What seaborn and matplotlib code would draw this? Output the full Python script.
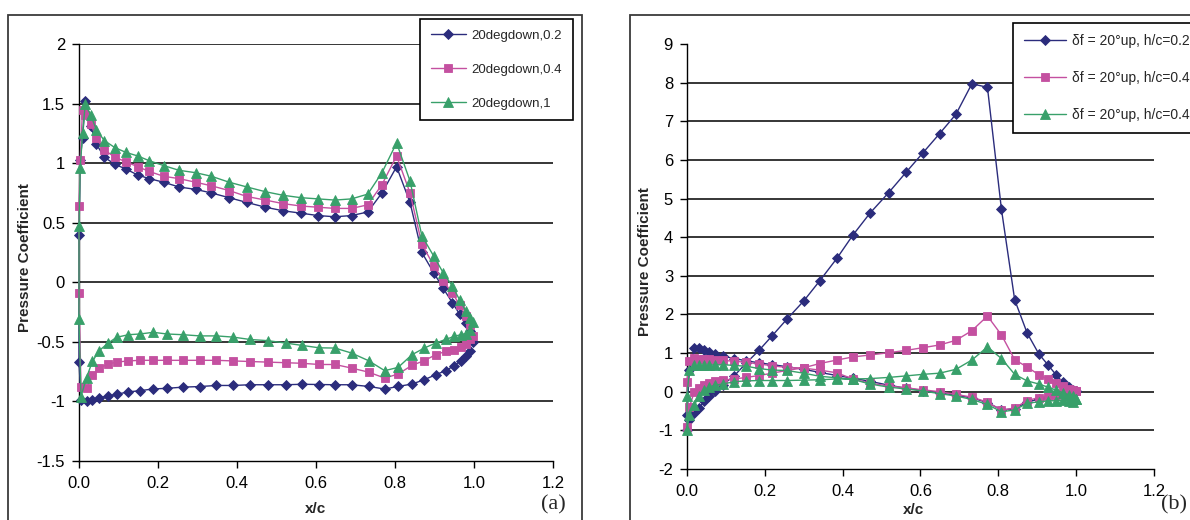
import matplotlib
matplotlib.use("Agg")
import matplotlib.pyplot as plt
from matplotlib.patches import Rectangle
from matplotlib.ticker import FuncFormatter
import seaborn as sns

sns.set_style("ticks")
plt.rcParams["font.family"] = ["Liberation Sans", "DejaVu Sans"]
plt.rcParams["axes.unicode_minus"] = False

# Data, panel (a): 20 deg flap down, surface pressure around the section
x_upper_a = [0.0, 0.003, 0.009, 0.016, 0.030, 0.044, 0.064, 0.091, 0.119, 0.149, 0.178, 0.214,
             0.253, 0.295, 0.335, 0.380, 0.425, 0.472, 0.517, 0.562, 0.605, 0.648, 0.690, 0.731,
             0.767, 0.804, 0.838, 0.868, 0.898, 0.922, 0.945, 0.964, 0.979, 0.990, 0.998]
x_lower_a = [0.0, 0.005, 0.019, 0.034, 0.051, 0.074, 0.095, 0.125, 0.154, 0.188, 0.223, 0.263,
             0.306, 0.348, 0.390, 0.433, 0.478, 0.523, 0.565, 0.608, 0.648, 0.690, 0.733, 0.774,
             0.808, 0.843, 0.874, 0.903, 0.928, 0.950, 0.966, 0.980, 0.990]

cp_upper_a_02 = [0.40, 1.03, 1.21, 1.52, 1.31, 1.16, 1.05, 0.99, 0.95, 0.90, 0.87, 0.84, 0.80, 0.78,
                 0.75, 0.71, 0.67, 0.63, 0.60, 0.58, 0.56, 0.55, 0.56, 0.59, 0.75, 0.97, 0.67, 0.25,
                 0.08, -0.05, -0.17, -0.27, -0.34, -0.41, -0.50]
cp_lower_a_02 = [-0.67, -0.99, -1.00, -0.99, -0.97, -0.955, -0.94, -0.92, -0.91, -0.895, -0.89,
                 -0.88, -0.875, -0.866, -0.866, -0.86, -0.86, -0.86, -0.856, -0.858, -0.86, -0.86,
                 -0.874, -0.896, -0.874, -0.854, -0.818, -0.776, -0.742, -0.70, -0.66, -0.62, -0.58]

cp_upper_a_04 = [0.64, 1.03, 1.45, 1.40, 1.33, 1.21, 1.11, 1.05, 1.01, 0.97, 0.93, 0.89, 0.87, 0.84,
                 0.81, 0.77, 0.72, 0.69, 0.66, 0.64, 0.63, 0.62, 0.62, 0.65, 0.82, 1.06, 0.75, 0.32,
                 0.14, 0.01, -0.09, -0.19, -0.28, -0.36, -0.45]
cp_lower_a_04 = [-0.09, -0.88, -0.89, -0.78, -0.72, -0.686, -0.67, -0.66, -0.655, -0.655, -0.655,
                 -0.655, -0.655, -0.655, -0.66, -0.665, -0.67, -0.675, -0.68, -0.69, -0.69, -0.72,
                 -0.754, -0.804, -0.77, -0.697, -0.658, -0.608, -0.58, -0.566, -0.546, -0.518, -0.48]

cp_upper_a_1 = [0.47, 0.96, 1.25, 1.50, 1.40, 1.28, 1.19, 1.13, 1.09, 1.06, 1.02, 0.98, 0.94, 0.92,
                0.89, 0.84, 0.80, 0.76, 0.73, 0.71, 0.70, 0.69, 0.70, 0.74, 0.92, 1.17, 0.85, 0.39,
                0.22, 0.08, -0.03, -0.15, -0.24, -0.30, -0.33]
cp_lower_a_1 = [-0.31, -0.96, -0.80, -0.664, -0.574, -0.51, -0.462, -0.44, -0.434, -0.42, -0.434,
                -0.44, -0.45, -0.45, -0.46, -0.48, -0.49, -0.51, -0.53, -0.55, -0.552, -0.594,
                -0.658, -0.742, -0.714, -0.608, -0.552, -0.51, -0.48, -0.454, -0.44, -0.43, -0.40]

labels_a = ["20degdown,0.2", "20degdown,0.4", "20degdown,1"]

# Data, panel (b): 20 deg flap up
x_b = [0.0, 0.006, 0.019, 0.031, 0.044, 0.057, 0.073, 0.092, 0.122, 0.152, 0.185, 0.219, 0.256,
       0.300, 0.341, 0.385, 0.426, 0.470, 0.518, 0.563, 0.606, 0.649, 0.691, 0.732, 0.772, 0.808,
       0.842, 0.874, 0.904, 0.927, 0.949, 0.966, 0.981, 0.993, 1.0]

cp_top_b_02 = [-0.60, 0.55, 1.12, 1.12, 1.08, 1.03, 0.98, 0.92, 0.86, 0.80, 0.75, 0.70, 0.65, 0.58,
               0.50, 0.42, 0.35, 0.27, 0.17, 0.09, 0.03, -0.03, -0.09, -0.16, -0.28, -0.47, -0.44,
               -0.27, -0.19, -0.14, -0.10, -0.06, -0.03, 0.00, 0.02]
cp_bot_b_02 = [-1.00, -0.72, -0.55, -0.42, -0.25, -0.12, 0.02, 0.18, 0.42, 0.74, 1.07, 1.45, 1.87,
               2.35, 2.87, 3.45, 4.05, 4.62, 5.15, 5.68, 6.18, 6.68, 7.18, 7.97, 7.88, 4.72, 2.38,
               1.52, 0.98, 0.70, 0.43, 0.24, 0.12, 0.05, 0.02]

cp_top_b_04 = [0.25, 0.80, 0.87, 0.86, 0.85, 0.84, 0.83, 0.81, 0.79, 0.76, 0.72, 0.67, 0.63, 0.61,
               0.56, 0.49, 0.33, 0.22, 0.15, 0.10, 0.05, 0.00, -0.07, -0.14, -0.27, -0.48, -0.42,
               -0.23, -0.15, -0.11, -0.08, -0.05, -0.03, 0.00, 0.03]
cp_bot_b_04 = [-0.90, -0.40, 0.00, 0.10, 0.18, 0.22, 0.27, 0.30, 0.33, 0.37, 0.42, 0.48, 0.55, 0.62,
               0.73, 0.82, 0.90, 0.95, 1.01, 1.07, 1.14, 1.21, 1.33, 1.58, 1.96, 1.47, 0.83, 0.64,
               0.44, 0.32, 0.22, 0.15, 0.08, 0.04, 0.03]

cp_top_b_04b = [-0.10, 0.55, 0.68, 0.68, 0.68, 0.69, 0.69, 0.70, 0.68, 0.66, 0.60, 0.56, 0.55, 0.48,
                0.40, 0.36, 0.32, 0.20, 0.12, 0.07, 0.02, -0.05, -0.11, -0.20, -0.33, -0.52, -0.47,
                -0.30, -0.26, -0.24, -0.23, -0.22, -0.24, -0.26, -0.18]
cp_bot_b_04b = [-1.00, -0.60, -0.35, -0.10, 0.05, 0.12, 0.17, 0.20, 0.26, 0.28, 0.29, 0.29, 0.29,
                0.30, 0.31, 0.33, 0.33, 0.34, 0.37, 0.41, 0.45, 0.48, 0.58, 0.82, 1.16, 0.86, 0.45,
                0.28, 0.20, 0.12, 0.04, -0.03, -0.08, -0.12, -0.18]

labels_b = ["\u03b4f = 20\u00b0up, h/c=0.2", "\u03b4f = 20\u00b0up, h/c=0.4",
            "\u03b4f = 20\u00b0up, h/c=0.4"]

colors = ["#2b2c7c", "#c450a0", "#38a06a"]
markers = ["D", "s", "^"]
msizes = [4.9, 5.6, 6.6]

W, H = 1190, 520


def px(x, y):
    # pixel position -> figure fraction
    return x / W, 1 - y / H


def loop(xa, ya, xb, yb):
    # one surface run backwards to the leading edge, then the other one forward
    return list(xa[::-1]) + list(xb), list(ya[::-1]) + list(yb)


def draw_series(ax, xs, ys, i, label):
    sns.lineplot(x=xs, y=ys, ax=ax, sort=False, estimator=None, color=colors[i],
                 marker=markers[i], markersize=msizes[i], markeredgecolor=colors[i],
                 markeredgewidth=0.6, linewidth=1.0, label=label, clip_on=False, zorder=3)


def style_axes(ax, ylim, yticks, grid):
    ax.set_xlim(0, 1.2)
    ax.set_ylim(*ylim)
    ax.set_xticks([0, 0.2, 0.4, 0.6, 0.8, 1.0, 1.2])
    ax.set_yticks(yticks)
    ax.xaxis.set_major_formatter(FuncFormatter(lambda v, p: "%.1f" % v))
    ax.yaxis.set_major_formatter(FuncFormatter(lambda v, p: "%g" % v))
    for v in grid:
        ax.axhline(v, color="black", linewidth=1.1, zorder=1)
    sns.despine(ax=ax)
    for s in ["left", "bottom"]:
        ax.spines[s].set_color("black")
        ax.spines[s].set_linewidth(1.0)
    ax.tick_params(direction="out", length=5, width=1, colors="black", labelsize=12)
    ax.tick_params(axis="x", pad=6)
    ax.tick_params(axis="y", pad=5)
    ax.set_xlabel("")
    ax.set_ylabel("")


fig = plt.figure(figsize=(W / 100, H / 100), dpi=100)
fig.patch.set_facecolor("white")

# outer frames of the two panels
fig.add_artist(Rectangle(px(8, 540), (582 - 8) / W, (540 - 15) / H, transform=fig.transFigure,
                         fill=False, edgecolor="#3a3a3a", linewidth=1.3))
fig.add_artist(Rectangle(px(630, 540), (1250 - 630) / W, (540 - 15) / H, transform=fig.transFigure,
                         fill=False, edgecolor="#3a3a3a", linewidth=1.3))

# panel (a)
l, b = px(79, 461)
ax1 = fig.add_axes([l, b, (553 - 79) / W, (461 - 44) / H])
series_a = [(cp_upper_a_02, cp_lower_a_02), (cp_upper_a_04, cp_lower_a_04),
            (cp_upper_a_1, cp_lower_a_1)]
for i, (up, lo) in enumerate(series_a):
    xs, ys = loop(x_upper_a, up, x_lower_a, lo)
    draw_series(ax1, xs, ys, i, labels_a[i])
style_axes(ax1, (-1.5, 2), [-1.5, -1, -0.5, 0, 0.5, 1, 1.5, 2], [-1, -0.5, 0, 0.5, 1, 1.5, 2])
leg1 = ax1.legend(loc="upper left", bbox_to_anchor=px(420, 19), bbox_transform=fig.transFigure,
                  borderaxespad=0, fancybox=False, framealpha=1, edgecolor="black",
                  fontsize=9.5, handlelength=2.7, handletextpad=0.4, labelspacing=1.65,
                  borderpad=0.8)
leg1.get_frame().set_linewidth(1.2)

# panel (b)
l, b = px(687, 469)
ax2 = fig.add_axes([l, b, (1154 - 687) / W, (469 - 44) / H])
series_b = [(cp_top_b_02, cp_bot_b_02), (cp_top_b_04, cp_bot_b_04),
            (cp_top_b_04b, cp_bot_b_04b)]
for i, (top, bot) in enumerate(series_b):
    xs, ys = loop(x_b, top, x_b, bot)
    draw_series(ax2, xs, ys, i, labels_b[i])
style_axes(ax2, (-2, 9), list(range(-2, 10)), list(range(-1, 9)))
leg2 = ax2.legend(loc="upper left", bbox_to_anchor=px(1013, 23), bbox_transform=fig.transFigure,
                  borderaxespad=0, fancybox=False, framealpha=1, edgecolor="black",
                  fontsize=10, handlelength=3.0, handletextpad=0.45, labelspacing=1.65,
                  borderpad=0.8)
leg2.get_frame().set_linewidth(1.2)

# axis titles and panel tags
for x, y in [(25, 258), (645, 262)]:
    fig.text(*px(x, y), "Pressure Coefficient", rotation=90, ha="center", va="center",
             fontsize=11, fontweight="bold")
for x, y in [(316, 509), (914, 510)]:
    fig.text(*px(x, y), "x/c", ha="center", va="center", fontsize=11, fontweight="bold")
for x, t in [(553, "(a)"), (1174, "(b)")]:
    fig.text(*px(x, 505), t, ha="center", va="center", fontsize=16,
             family=["Liberation Serif", "DejaVu Serif"])

fig.savefig("out.png", dpi=100)
